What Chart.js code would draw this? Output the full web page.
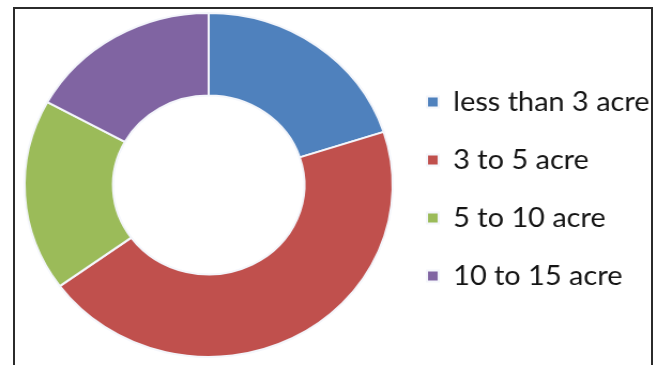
<!DOCTYPE html>
<html>
<head>
<meta charset="utf-8">
<script src="https://cdn.jsdelivr.net/npm/chart.js@4/dist/chart.umd.min.js"></script>
<style>
  html, body { margin: 0; padding: 0; background: #fff; overflow: hidden; }
  #frame {
    position: absolute; left: 13px; top: 7px; width: 636px; height: 400px;
    border: 2px solid #2b2b2b; border-bottom: none;
  }
  #farm {
    position: absolute; left: 0; top: 0;
    transform: scaleX(1.07); transform-origin: 0 0;
  }
</style>
</head>
<body>
<div id="frame"></div>
<canvas id="farm" width="622" height="365"></canvas>
<script>
const categories = ["less than 3 acre", "3 to 5 acre", "5 to 10 acre", "10 to 15 acre"];
const shares = [20, 45, 18, 17];
const sliceColors = ["#4f81bd", "#c0504d", "#9bbb59", "#8064a2"];

// nudge the legend column down a little after layout
const legendNudge = {
  id: "legendNudge",
  afterLayout(chart) {
    chart.legend.top += 4;
    chart.legend.bottom += 4;
  }
};

new Chart(document.getElementById("farm"), {
  type: "doughnut",
  data: {
    labels: categories,
    datasets: [{
      data: shares,
      backgroundColor: sliceColors,
      borderColor: "#f4f6fb",
      borderWidth: 2
    }]
  },
  options: {
    responsive: false,
    animation: false,
    cutout: "52%",
    layout: { padding: { left: 22, top: 12, bottom: 7, right: 5 } },
    plugins: {
      tooltip: { enabled: false },
      legend: {
        position: "right",
        labels: {
          boxWidth: 11,
          boxHeight: 11,
          padding: 31,
          color: "#141414",
          font: { family: "Lato", size: 27 }
        }
      }
    }
  },
  plugins: [legendNudge]
});
</script>
</body>
</html>
